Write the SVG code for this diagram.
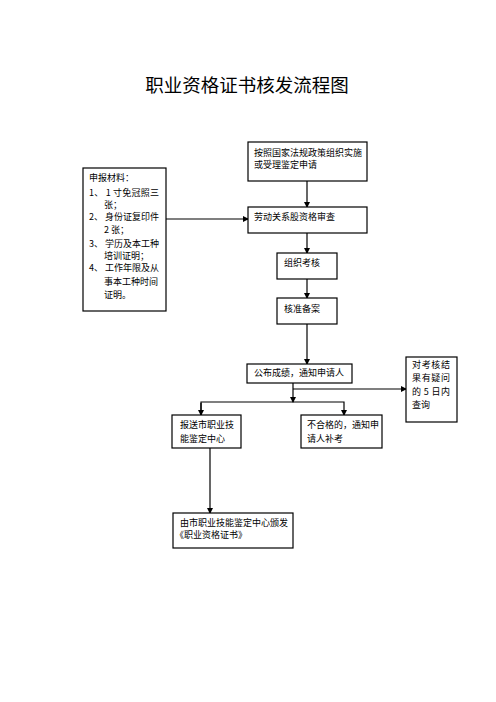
<svg xmlns="http://www.w3.org/2000/svg" width="496" height="702" viewBox="0 0 496 702">
<style>
.b{fill:#fff;stroke:#000;stroke-width:1.2}
.t{font-family:"Noto Sans CJK SC","Noto Sans CJK JP",sans-serif;font-size:9px;fill:#000}
.c{stroke:#000;stroke-width:1.2;fill:none}
</style>
<defs>
<marker id="a" markerWidth="6" markerHeight="6" refX="5" refY="3" orient="auto" markerUnits="userSpaceOnUse">
<path d="M0,0 L6,3 L0,6 Z" fill="#000"/>
</marker>
</defs>
<rect width="496" height="702" fill="#fff"/>
<text x="247" y="92" text-anchor="middle" style="font-family:'Noto Sans CJK SC',sans-serif;font-size:18.5px">职业资格证书核发流程图</text>
<g id="connectors">
<path class="c" d="M307,181 V207" marker-end="url(#a)"/>
<path class="c" d="M166,219 H248" marker-end="url(#a)"/>
<path class="c" d="M307,233 V253" marker-end="url(#a)"/>
<path class="c" d="M307,279 V298" marker-end="url(#a)"/>
<path class="c" d="M307,324 V364" marker-end="url(#a)"/>
<path class="c" d="M293,383 V402" marker-end="url(#a)"/>
<path class="c" d="M293,389 H406" marker-end="url(#a)"/>
<path class="c" d="M201,415 V402 H344 V415" marker-end="url(#a)"/>
<path class="c" d="M201,403 V415" marker-end="url(#a)"/>
<path class="c" d="M210,448 V513" marker-end="url(#a)"/>
</g>
<g id="n1"><rect class="b" x="248" y="142" width="119" height="39"/>
<text class="t" x="254" y="156">按照国家法规政策组织实施</text>
<text class="t" x="254" y="168">或受理鉴定申请</text></g>
<g id="n2"><rect class="b" x="248" y="207" width="119" height="26"/>
<text class="t" x="254" y="220">劳动关系股资格审查</text></g>
<g id="materials"><rect class="b" x="83" y="168" width="83" height="143"/>
<text class="t" x="89" y="181">申报材料：</text>
<text class="t" x="89" y="196" textLength="70" lengthAdjust="spacing">1、 1 寸免冠照三</text>
<text class="t" x="104" y="208">张；</text>
<text class="t" x="89" y="220" textLength="70" lengthAdjust="spacing">2、 身份证复印件</text>
<text class="t" x="104" y="233">2 张；</text>
<text class="t" x="89" y="247" textLength="70" lengthAdjust="spacing">3、 学历及本工种</text>
<text class="t" x="104" y="259">培训证明；</text>
<text class="t" x="89" y="271" textLength="70" lengthAdjust="spacing">4、 工作年限及从</text>
<text class="t" x="104" y="285">事本工种时间</text>
<text class="t" x="104" y="298">证明。</text></g>
<g id="n3"><rect class="b" x="277" y="253" width="60" height="26"/>
<text class="t" x="284" y="266">组织考核</text></g>
<g id="n4"><rect class="b" x="277" y="298" width="60" height="26"/>
<text class="t" x="284" y="312">核准备案</text></g>
<g id="n5"><rect class="b" x="247" y="364" width="105" height="19"/>
<text class="t" x="254" y="376">公布成绩，通知申请人</text></g>
<g id="query"><rect class="b" x="406" y="357" width="51" height="65"/>
<text class="t" x="412" y="368" textLength="38" lengthAdjust="spacing">对考核结</text>
<text class="t" x="412" y="381" textLength="38" lengthAdjust="spacing">果有疑问</text>
<text class="t" x="412" y="395" textLength="38" lengthAdjust="spacing">的 5 日内</text>
<text class="t" x="412" y="408">查询</text></g>
<g id="n6"><rect class="b" x="172" y="415" width="69" height="33"/>
<text class="t" x="180" y="428">报送市职业技</text>
<text class="t" x="180" y="442">能鉴定中心</text></g>
<g id="n7"><rect class="b" x="301" y="415" width="81" height="33"/>
<text class="t" x="307" y="428">不合格的，通知申</text>
<text class="t" x="307" y="442">请人补考</text></g>
<g id="n8"><rect class="b" x="173" y="513" width="120" height="35"/>
<text class="t" x="180" y="526">由市职业技能鉴定中心颁发</text>
<text class="t" x="175" y="538">《职业资格证书》</text></g>
</svg>
